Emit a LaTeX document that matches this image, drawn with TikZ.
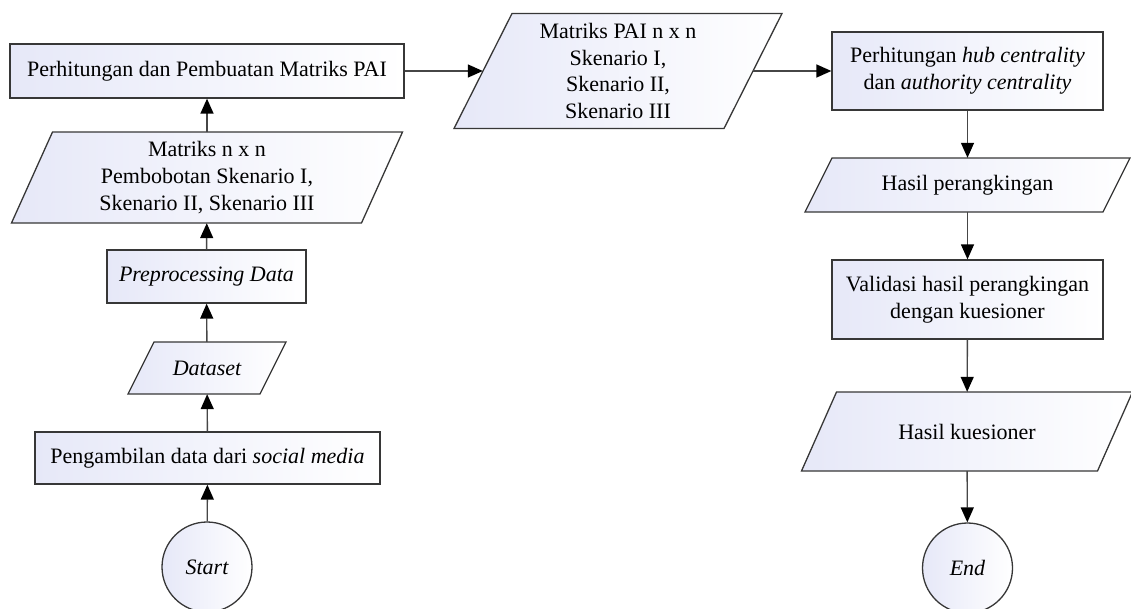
\documentclass[tikz,border=0pt]{standalone}
\usepackage{fontspec}
\setmainfont{Liberation Serif}
\usetikzlibrary{arrows.meta,backgrounds}
\definecolor{fillL}{RGB}{230,232,248}
\definecolor{edge}{RGB}{55,55,55}
\definecolor{conn}{RGB}{70,70,70}
\tikzset{
  shapefill/.style={draw=edge, line width=1.3pt, left color=fillL, right color=white},
  procbox/.style={shapefill, rectangle, align=center, inner sep=0pt, font=\fontsize{22}{26.7}\selectfont},
  paratext/.style={rectangle, draw=none, align=center, inner sep=0pt, font=\fontsize{22}{26.7}\selectfont},
  termnode/.style={shapefill, circle, minimum size=90pt, inner sep=0pt, font=\fontsize{22}{26.7}\selectfont\itshape},
  conn/.style={draw=conn, line width=1.4pt, -{Triangle[length=15pt,width=13pt,fill=black,color=black]}},
}
% name, cx, cy, w, h, slant, text
\newcommand{\paral}[7]{%
  \path[shapefill] ({#2-#4/2+#6/2},{#3-#5/2}) -- ({#2+#4/2+#6/2},{#3-#5/2})
     -- ({#2+#4/2-#6/2},{#3+#5/2}) -- ({#2-#4/2-#6/2},{#3+#5/2}) -- cycle;
  \node[paratext, minimum width=#4pt, minimum height=#5pt] (#1) at (#2,#3) {#7};
}
\begin{document}
\begin{tikzpicture}[x=1pt,y=-1pt]
\useasboundingbox (0,0) rectangle (1131,608);
% left column
\node[procbox, minimum width=394pt, minimum height=54pt] (pai) at (207,71) {Perhitungan dan Pembuatan Matriks PAI};
\paral{mnn}{207}{177.5}{350}{91}{41}{Matriks n x n\\Pembobotan Skenario I,\\Skenario II, Skenario III}
\node[procbox, minimum width=199pt, minimum height=53pt] (pre) at (206.5,276.5) {\itshape Preprocessing Data};
\paral{data}{207}{368}{132}{52}{26}{\itshape Dataset}
\node[procbox, minimum width=345pt, minimum height=52pt] (ambil) at (207.5,458) {Pengambilan data dari \textit{social media}};
\node[termnode] (start) at (207,567) {Start};
% middle
\paral{mpai}{618}{71}{270}{115}{58}{Matriks PAI n x n\\Skenario I,\\Skenario II,\\Skenario III}
% right column
\node[procbox, minimum width=271pt, minimum height=78pt] (hub) at (967.5,71) {Perhitungan \textit{hub centrality}\\dan \textit{authority centrality}};
\paral{rank}{967.5}{185}{298}{54}{27}{Hasil perangkingan}
\node[procbox, minimum width=271pt, minimum height=79pt] (val) at (967.5,299.5) {Validasi hasil perangkingan\\dengan kuesioner};
\paral{kues}{967}{431.5}{296}{79}{35}{Hasil kuesioner}
\node[termnode] (end) at (967.5,568) {End};
% connectors
\draw[conn] (start) -- (ambil);
\draw[conn] (ambil) -- (data);
\draw[conn] (data) -- (pre);
\draw[conn] (pre) -- (mnn);
\draw[conn] (mnn) -- (pai);
\draw[conn] (pai.east) -- (pai.east -| mpai.west);
\draw[conn] (mpai.east) -- (mpai.east -| hub.west);
\draw[conn] (hub) -- (rank);
\draw[conn] (rank) -- (val);
\draw[conn] (val) -- (kues);
\draw[conn] (kues) -- (end);
\end{tikzpicture}
\end{document}
